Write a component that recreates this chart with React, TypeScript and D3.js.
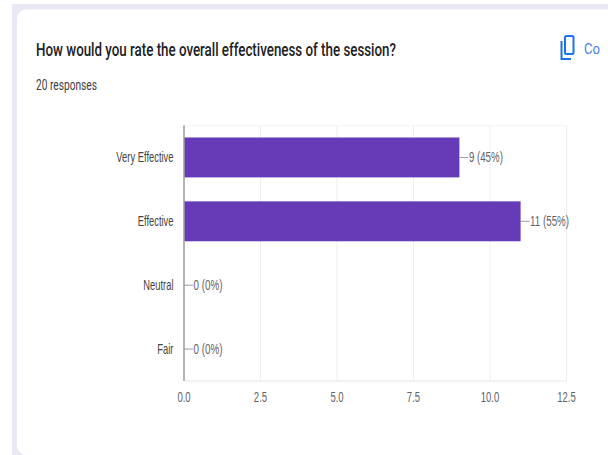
import React from "react";
import * as d3 from "d3";

const categories = ["Very Effective", "Effective", "Neutral", "Fair"];
const counts = [9, 11, 0, 0];
const percents = ["45%", "55%", "0%", "0%"];
const ticks = [0, 2.5, 5, 7.5, 10, 12.5];
const title = "How would you rate the overall effectiveness of the session?";
const subtitle = "20 responses";

const W = 608, H = 455;
const F = "Roboto, Arial, sans-serif";
const A = "'Liberation Sans', Arial, sans-serif";
const squeeze = (px: number, k: number) => `translate(${px} 0) scale(${k} 1) translate(${-px} 0)`;

export default function App() {
  const x = d3.scaleLinear().domain([0, 12.5]).range([184, 566.5]);
  const y = d3.scaleBand<string>().domain(categories).range([125.5, 381]).paddingInner(0.375).paddingOuter(0.1875);
  return (
    <svg width={W} height={H} viewBox={`0 0 ${W} ${H}`} style={{ position: "fixed", left: 0, top: 0, display: "block", background: "#fff" }}>
      <rect x={12} y={4} width={W - 12} height={H - 4} fill="#ebe8f6" />
      <rect x={17} y={9.5} width={W + 20} height={H - 9.5} rx={9} fill="#fff" />
      <text x={36} y={56} fontFamily={F} fontWeight={500} fontSize={18} fill="#202124" textLength={360} lengthAdjust="spacingAndGlyphs">{title}</text>
      <text x={36} y={90} fontFamily={F} fontSize={14} fill="#3c4043" textLength={61} lengthAdjust="spacingAndGlyphs">{subtitle}</text>

      <g fill="none" stroke="#1a73e8" strokeWidth={2}>
        <rect x={565} y={36} width={8.5} height={18} rx={1.5} />
        <path d="M561.5 41 V59 H571" />
      </g>
      <text x={584} y={54} fontFamily={F} fontSize={15.5} fill="#4a7ee0" textLength={16} lengthAdjust="spacingAndGlyphs">Co</text>

      {ticks.map((t) => (
        <line key={t} x1={x(t)} x2={x(t)} y1={125.5} y2={381} stroke="#eeeeee" strokeWidth={1} />
      ))}
      <line x1={184} x2={566.5} y1={125.5} y2={125.5} stroke="#f4f4f4" strokeWidth={1} />
      <line x1={184} x2={566.5} y1={381} y2={381} stroke="#efefef" strokeWidth={1.5} />

      {categories.map((c, i) => {
        const by = y(c)!;
        const cy = by + y.bandwidth() / 2;
        const end = x(counts[i]);
        return (
          <g key={c}>
            {counts[i] > 0 && <rect x={184} y={by} width={end - 184} height={y.bandwidth()} fill="#673ab7" />}
            <line x1={end} x2={end + 9} y1={cy} y2={cy} stroke="#9e9e9e" strokeWidth={1} />
            <text x={end + 9.5} y={cy + 5} fontFamily={A} fontSize={14} fill="#5f6368" textLength={counts[i] > 9 ? 39 : counts[i] > 0 ? 34 : 29} lengthAdjust="spacingAndGlyphs">{`${counts[i]} (${percents[i]})`}</text>
            <text x={173.5} y={cy + 5} textAnchor="end" fontFamily={A} fontSize={14} fill="#444" transform={squeeze(173.5, 0.67)}>{c}</text>
          </g>
        );
      })}
      <line x1={184} x2={184} y1={125.5} y2={381} stroke="#9e9e9e" strokeWidth={1.5} />

      {ticks.map((t) => (
        <text key={t} x={x(t)} y={402.5} textAnchor="middle" fontFamily={A} fontSize={14} fill="#5f6368" transform={squeeze(x(t), 0.68)}>{t.toFixed(1)}</text>
      ))}
    </svg>
  );
}
